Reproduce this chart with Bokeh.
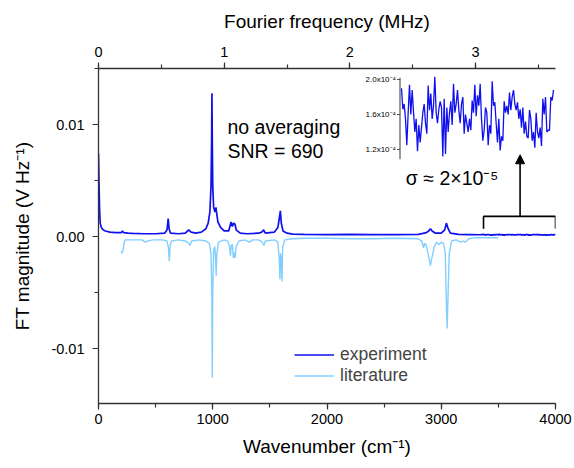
import numpy as np
from bokeh.plotting import figure
from bokeh.models import (Range1d, LinearAxis, SingleIntervalTicker, NumeralTickFormatter,
                          Label, Arrow, NormalHead, Legend, LegendItem)
from bokeh.core.properties import value
from bokeh.embed import file_html
from bokeh.resources import INLINE

FONT = "Liberation Sans"

# ---------------- data ----------------
exp_wn = [0, 5, 10, 15, 25, 40, 60, 100, 150, 200, 210, 220, 260, 300, 400, 500, 580, 600, 610, 618,
          630, 700, 760, 790, 810, 850, 900, 940, 960, 975, 985, 990, 993, 996, 1000, 1008, 1020, 1028,
          1033, 1045, 1070, 1100, 1140, 1150, 1160, 1172, 1182, 1195, 1205, 1240, 1300, 1400, 1430,
          1445, 1460, 1540, 1570, 1585, 1592, 1600, 1615, 1650, 1700, 1800, 2000, 2200, 2400, 2600,
          2800, 2840, 2870, 2890, 2905, 2920, 2950, 3000, 3030, 3045, 3060, 3080, 3150, 3250, 3340]
exp_val = [0.0074, 0.0045, 0.0022, 0.0012, 0.0008, 0.0006, 0.0005, 0.0004, 0.00035, 0.00035, 0.0005,
           0.00035, 0.0003, 0.00028, 0.00025, 0.00025, 0.0003, 0.0006, 0.0016, 0.0007, 0.0003, 0.00025,
           0.0003, 0.0006, 0.0004, 0.0003, 0.0004, 0.0007, 0.0012, 0.0022, 0.0045, 0.0085, 0.0128,
           0.0085, 0.0045, 0.0026, 0.0022, 0.0026, 0.0022, 0.0013, 0.0008, 0.0005, 0.0005, 0.0009,
           0.0013, 0.0009, 0.0012, 0.0011, 0.0006, 0.0003, 0.00025, 0.0003, 0.0004, 0.0006, 0.0003,
           0.0004, 0.0008, 0.0018, 0.0023, 0.0012, 0.0005, 0.0003, 0.00022, 0.0002, 0.00018, 0.0002,
           0.00017, 0.00018, 0.0002, 0.00028, 0.00035, 0.0005, 0.0007, 0.0005, 0.0003, 0.0003, 0.0006,
           0.0012, 0.0007, 0.0003, 0.0002, 0.00018, 0.00016]

lit_wn = [200, 205, 215, 225, 235, 300, 380, 410, 430, 480, 560, 600, 612, 620, 626, 640, 700, 760,
          790, 800, 815, 880, 940, 970, 985, 992, 996, 1000, 1008, 1018, 1025, 1030, 1036, 1050, 1100,
          1130, 1145, 1155, 1162, 1172, 1180, 1188, 1195, 1205, 1230, 1280, 1320, 1350, 1400, 1435,
          1447, 1460, 1540, 1570, 1582, 1588, 1594, 1600, 1606, 1612, 1630, 1700, 1800, 2000, 2200,
          2400, 2600, 2800, 2830, 2845, 2855, 2870, 2890, 2905, 2920, 2940, 2960, 2980, 3000, 3020,
          3035, 3045, 3052, 3060, 3070, 3090, 3130, 3170, 3190, 3210, 3240, 3300, 3500]
lit_val = [-0.0013, -0.0015, -0.0012, -0.0005, -0.0003, -0.0003, -0.0003, -0.0005, -0.0004, -0.0003,
           -0.0003, -0.0004, -0.0010, -0.0022, -0.0008, -0.0004, -0.0003, -0.0004, -0.0006, -0.0008,
           -0.0004, -0.0003, -0.0004, -0.0006, -0.0015, -0.0050, -0.0126, -0.0050, -0.0012, -0.0009,
           -0.0020, -0.0035, -0.0015, -0.0005, -0.0003, -0.0004, -0.0008, -0.0017, -0.0008, -0.0007,
           -0.0019, -0.0014, -0.0019, -0.0009, -0.0004, -0.0003, -0.0005, -0.0003, -0.0003, -0.0005,
           -0.0008, -0.0004, -0.0003, -0.0005, -0.0020, -0.0038, -0.0015, -0.0020, -0.0040, -0.0010,
           -0.0003, -0.0002, -0.00015, -0.00015, -0.0002, -0.0002, -0.00015, -0.0002, -0.0004, -0.0010,
           -0.0006, -0.0008, -0.0018, -0.0026, -0.0018, -0.0009, -0.0005, -0.0007, -0.0005, -0.0006,
           -0.0015, -0.0060, -0.0082, -0.0050, -0.0015, -0.0004, -0.0003, -0.0005, -0.0004, -0.0005,
           -0.0002, -0.0001, -0.0001]

# noise region 3370-4000 cm-1, in units of 1e-4 V/Hz
inset_val = [1.90, 1.66, 1.72, 1.55, 1.25, 1.62, 1.94, 1.60, 1.88, 1.63, 1.40, 1.55, 1.18, 1.48, 1.28,
             1.45, 1.62, 1.72, 1.50, 1.38, 1.93, 1.65, 1.84, 1.55, 1.70, 2.03, 1.62, 1.50, 1.66, 1.75,
             1.68, 1.12, 1.78, 1.15, 1.68, 1.40, 1.62, 1.75, 1.48, 1.95, 1.62, 1.72, 1.88, 1.65, 1.50,
             1.72, 1.80, 1.38, 1.60, 1.50, 1.40, 1.55, 1.42, 1.76, 1.62, 1.94, 1.58, 1.82, 1.70, 1.95,
             1.55, 1.30, 1.42, 1.68, 1.62, 1.25, 1.48, 1.38, 1.98, 1.70, 1.74, 1.50, 1.28, 1.55, 1.19,
             1.35, 1.30, 1.75, 1.62, 1.70, 1.60, 1.85, 1.65, 1.80, 1.88, 1.72, 1.65, 1.74, 1.55, 1.66,
             1.45, 1.68, 1.38, 1.52, 1.35, 1.33, 1.65, 1.55, 1.30, 1.40, 1.22, 1.62, 1.40, 1.33, 1.45,
             1.24, 1.78, 1.60, 1.80, 1.40, 1.42, 1.42, 1.80, 1.76, 1.88]
inset_start, inset_end = 3370, 4000
inset_ticks = [1.2, 1.6, 2.0]
inset_tick_labels = ["1.2x10\u207b\u2074", "1.6x10\u207b\u2074", "2.0x10\u207b\u2074"]

WN_PER_MHZ = 1100.0

# ---------------- figure ----------------
W, H = 574, 468
FL, FR, FT, FB = 98, 555, 68, 403
p = figure(width=W, height=H, output_backend="svg", toolbar_location=None,
           x_range=Range1d(0, 4000), y_range=Range1d(-0.0149, 0.0150),
           x_axis_location=None, y_axis_location=None,
           min_border_left=FL, min_border_right=W - FR, min_border_top=FT, min_border_bottom=H - FB)
p.grid.visible = False
p.outline_line_color = None
p.background_fill_color = "white"
p.border_fill_color = "white"

AX_COL = "#333333"

def style_axis(ax, label_size="19px"):
    ax.axis_line_color = AX_COL
    ax.axis_line_width = 1.3
    ax.major_tick_line_color = AX_COL
    ax.minor_tick_line_color = AX_COL
    ax.major_tick_line_width = 1.2
    ax.minor_tick_line_width = 1.2
    ax.major_tick_in = 0
    ax.major_tick_out = 6
    ax.minor_tick_in = 0
    ax.minor_tick_out = 4
    ax.major_label_text_font = FONT
    ax.major_label_text_font_size = "14.5px"
    ax.major_label_text_color = "black"
    ax.axis_label_text_font = FONT
    ax.axis_label_text_font_size = label_size
    ax.axis_label_text_font_style = "normal"
    ax.axis_label_text_color = "black"

bottom = LinearAxis(ticker=SingleIntervalTicker(interval=1000, num_minor_ticks=2),
                    axis_label="Wavenumber (cm\u207b\u00b9)")
style_axis(bottom)
bottom.major_label_standoff = 4
bottom.axis_label_standoff = 9
p.add_layout(bottom, "below")

left = LinearAxis(ticker=SingleIntervalTicker(interval=0.01, num_minor_ticks=2),
                  formatter=NumeralTickFormatter(format="0.00"),
                  axis_label="FT magnitude (V Hz\u207b\u00b9)")
style_axis(left)
left.major_label_standoff = 8
left.axis_label_standoff = 15
p.add_layout(left, "left")

p.extra_x_ranges = {"mhz": Range1d(0, 4000 / WN_PER_MHZ)}
top = LinearAxis(x_range_name="mhz", ticker=SingleIntervalTicker(interval=1, num_minor_ticks=2),
                 axis_label="Fourier frequency (MHz)")
style_axis(top)
top.major_label_standoff = 6
top.axis_label_standoff = 12
p.add_layout(top, "above")

# ---------------- main spectra ----------------
inset_x = np.linspace(inset_start, inset_end, len(inset_val))
exp_x = list(exp_wn) + list(inset_x)
exp_y = list(exp_val) + [v * 1e-4 for v in inset_val]

EXP_COL = "#1010ee"
LIT_COL = "#82cfff"
r_lit = p.line(lit_wn, lit_val, line_color=LIT_COL, line_width=1.4)
r_exp = p.line(exp_x, exp_y, line_color=EXP_COL, line_width=1.7)

legend = Legend(items=[LegendItem(label="experiment", renderers=[r_exp]),
                       LegendItem(label="literature", renderers=[r_lit])],
                location=(196, 17))
legend.label_text_font = FONT
legend.label_text_font_size = "17.5px"
legend.glyph_width = 40
legend.glyph_height = 17
legend.label_height = 17
legend.label_standoff = 6
legend.spacing = 0
legend.padding = 0
legend.border_line_color = None
legend.background_fill_alpha = 0
p.add_layout(legend, "center")

# ---------------- annotations ----------------
for txt, yy in [("no averaging", 0.00982), ("SNR = 690", 0.00768)]:
    p.add_layout(Label(x=1129, y=yy, text=txt, text_font=FONT, text_font_size="19.5px",
                       text_baseline="middle", text_color="black"))
p.add_layout(Label(x=2690, y=0.0052, text="\u03c3 \u2248 2\u00d710\u207b\u2075", text_font=FONT,
                   text_font_size="19.5px", text_baseline="middle", text_color="black"))

# bracket and arrow marking the noise region
p.line([inset_start, inset_start, inset_end, inset_end], [0.0007, 0.0018, 0.0018, 0.0007],
       line_color="black", line_width=1.6)
p.add_layout(Arrow(end=NormalHead(size=9, fill_color="black", line_color="black"),
                   x_start=3690, y_start=0.0018, x_end=3690, y_end=0.0073,
                   line_color="black", line_width=1.6))

# ---------------- inset ----------------
fw = FR - FL
fh = FB - FT
px0, px1 = 401 - FL, 553 - FL
span = (inset_end - inset_start) * fw / (px1 - px0)
ix0 = inset_start - px0 / fw * span
p.extra_x_ranges["ix"] = Range1d(ix0, ix0 + span)
# 2.0e-4 at y=79, 1.2e-4 at y=149
ppu = (149 - 79) / 0.8
yspan = fh / ppu
iy0 = 2.0 - (FB - 79) / ppu
p.extra_y_ranges = {"iy": Range1d(iy0, iy0 + yspan)}

p.line(inset_x, inset_val, x_range_name="ix", y_range_name="iy", line_color=EXP_COL, line_width=1.3)
ax_x = inset_start - 1.5 * span / fw
tick_len = 3 * span / fw
p.segment(x0=[ax_x], y0=[1.09], x1=[ax_x], y1=[2.02], x_range_name="ix", y_range_name="iy",
          line_color="#555555", line_width=1.2)
p.segment(x0=[ax_x - tick_len] * 3, y0=inset_ticks, x1=[ax_x] * 3, y1=inset_ticks,
          x_range_name="ix", y_range_name="iy", line_color="#555555", line_width=1)
p.text(x=[ax_x - tick_len - 1.0 * span / fw] * 3, y=inset_ticks, text=inset_tick_labels,
       x_range_name="ix", y_range_name="iy", text_font=value(FONT), text_font_size="8px",
       text_align="right", text_baseline="middle", text_color="black")

open("out.html", "w").write(file_html(p, INLINE))
